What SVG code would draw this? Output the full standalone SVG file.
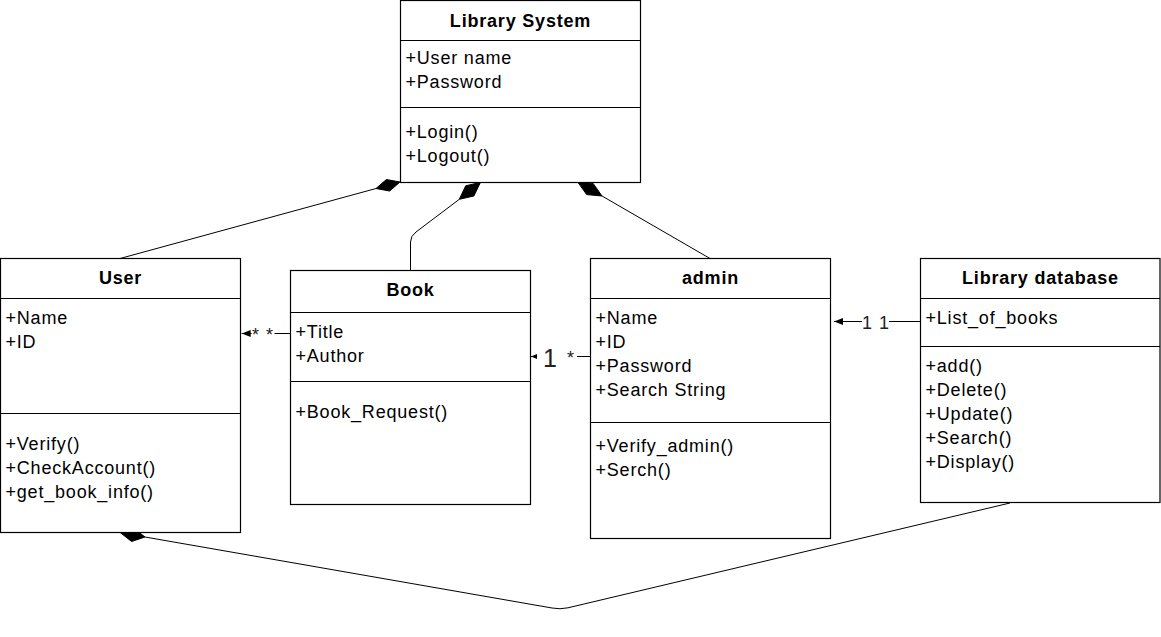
<svg xmlns="http://www.w3.org/2000/svg" width="1161" height="637" viewBox="0 0 1161 637">
  <style>
    .box { fill: #ffffff; stroke: #000000; stroke-width: 1.2; }
    .sep { stroke: #000000; stroke-width: 1.2; fill: none; }
    .edge { fill: none; stroke: #000000; stroke-width: 1; }
    .dia { fill: #000000; stroke: #000000; stroke-width: 1; stroke-linejoin: miter; }
    .t { font-family: "Liberation Sans", Arial, Helvetica, sans-serif; font-size: 18px; letter-spacing: 0.8px; fill: #000000; }
    .h { font-family: "Liberation Sans", Arial, Helvetica, sans-serif; font-size: 18px; letter-spacing: 0.8px; font-weight: bold; fill: #000000; text-anchor: middle; }
    .m { font-family: "Liberation Sans", Arial, Helvetica, sans-serif; font-size: 18px; fill: #222222; }
    .m24 { font-family: "Liberation Sans", Arial, Helvetica, sans-serif; font-size: 25px; fill: #222222; text-anchor: middle; }
    .bg { fill: #ffffff; stroke: none; }
  </style>
  <defs>
    <marker id="arr" markerUnits="userSpaceOnUse" markerWidth="10" markerHeight="8" refX="9" refY="3.5" orient="auto">
      <path d="M0,0 L9,3.5 L0,7 Z" fill="#000000"/>
    </marker>
    <marker id="arrS" markerUnits="userSpaceOnUse" markerWidth="7" markerHeight="6" refX="6" refY="2.5" orient="auto">
      <path d="M0,0 L6,2.5 L0,5 Z" fill="#000000"/>
    </marker>
  </defs>

  <g id="connectors">
    <!-- Library System to User (composition) -->
    <path class="edge" d="M120,258.5 L376,188.5"/>
    <polygon class="dia" points="400,182 389.6,191 376,188.5 386.4,179.5"/>
    <!-- Library System to Book (composition) -->
    <path class="edge" d="M410.5,270.5 V242 Q410.5,236 416,232 L459.3,199.3"/>
    <polygon class="dia" points="480.4,182.4 473.9,196 459.3,199.3 465.7,185.8"/>
    <!-- Library System to admin (composition) -->
    <path class="edge" d="M710,258.5 L602,196"/>
    <polygon class="dia" points="577.7,182.1 593.1,183.4 602,196 586.7,194.6"/>
    <!-- Library database to User (composition, bottom) -->
    <path class="edge" d="M145,537 L552,608 Q560,609.6 568,607.8 L1010,503"/>
    <polygon class="dia" points="120.4,532.7 133.8,528.3 145,537 131.6,541.5"/>

    <!-- Book to User association -->
    <path class="edge" d="M290.5,333.5 L241.7,333.5" marker-end="url(#arr)"/>
    <rect class="bg" x="251.5" y="322" width="23" height="18"/>
    <text class="m" x="252" y="341">*</text>
    <text class="m" x="266" y="341">*</text>

    <!-- admin to Book association -->
    <path class="edge" d="M590.5,356.5 L531,356.5" marker-end="url(#arrS)"/>
    <rect class="bg" x="537" y="343" width="40" height="26"/>
    <text class="m24" x="550" y="366.5">1</text>
    <text class="m" x="567" y="364">*</text>

    <!-- Library database to admin association -->
    <path class="edge" d="M920.5,321.5 L834,321.5" marker-end="url(#arr)"/>
    <rect class="bg" x="862" y="311" width="27" height="20"/>
    <text class="m" x="862" y="328.5">1</text>
    <text class="m" x="879" y="328.5">1</text>
  </g>

  <g id="library-system">
    <rect class="box" x="400.5" y="0.5" width="240" height="182"/>
    <line class="sep" x1="400.5" y1="40.5" x2="640.5" y2="40.5"/>
    <line class="sep" x1="400.5" y1="107.5" x2="640.5" y2="107.5"/>
    <text class="h" x="520.5" y="26.5">Library System</text>
    <text class="t" x="405.5" y="64">+User name</text>
    <text class="t" x="405.5" y="88">+Password</text>
    <text class="t" x="405.5" y="137.5">+Login()</text>
    <text class="t" x="405.5" y="161.5">+Logout()</text>
  </g>

  <g id="user">
    <rect class="box" x="0.5" y="258.5" width="240" height="274"/>
    <line class="sep" x1="0.5" y1="298.5" x2="240.5" y2="298.5"/>
    <line class="sep" x1="0.5" y1="413.5" x2="240.5" y2="413.5"/>
    <text class="h" x="120.5" y="283.5">User</text>
    <text class="t" x="5.5" y="323.5">+Name</text>
    <text class="t" x="5.5" y="347.5">+ID</text>
    <text class="t" x="5.5" y="449.5">+Verify()</text>
    <text class="t" x="5.5" y="473.5">+CheckAccount()</text>
    <text class="t" x="5.5" y="497.5">+get_book_info()</text>
  </g>

  <g id="book">
    <rect class="box" x="290.5" y="270.5" width="240" height="234"/>
    <line class="sep" x1="290.5" y1="312.5" x2="530.5" y2="312.5"/>
    <line class="sep" x1="290.5" y1="381.5" x2="530.5" y2="381.5"/>
    <text class="h" x="410.5" y="295.5">Book</text>
    <text class="t" x="295.5" y="337.5">+Title</text>
    <text class="t" x="295.5" y="361.5">+Author</text>
    <text class="t" x="295.5" y="418">+Book_Request()</text>
  </g>

  <g id="admin">
    <rect class="box" x="590.5" y="258.5" width="240" height="280"/>
    <line class="sep" x1="590.5" y1="298.5" x2="830.5" y2="298.5"/>
    <line class="sep" x1="590.5" y1="422.5" x2="830.5" y2="422.5"/>
    <text class="h" x="710.5" y="283.5">admin</text>
    <text class="t" x="595.5" y="323.5">+Name</text>
    <text class="t" x="595.5" y="347.5">+ID</text>
    <text class="t" x="595.5" y="371.5">+Password</text>
    <text class="t" x="595.5" y="395.5">+Search String</text>
    <text class="t" x="595.5" y="451.5">+Verify_admin()</text>
    <text class="t" x="595.5" y="475.5">+Serch()</text>
  </g>

  <g id="library-database">
    <rect class="box" x="920.5" y="258.5" width="239.5" height="244"/>
    <line class="sep" x1="920.5" y1="298.5" x2="1160" y2="298.5"/>
    <line class="sep" x1="920.5" y1="346.5" x2="1160" y2="346.5"/>
    <text class="h" x="1040.5" y="283.5">Library database</text>
    <text class="t" x="925.5" y="323.5">+List_of_books</text>
    <text class="t" x="925.5" y="371.5">+add()</text>
    <text class="t" x="925.5" y="395.5">+Delete()</text>
    <text class="t" x="925.5" y="419.5">+Update()</text>
    <text class="t" x="925.5" y="443.5">+Search()</text>
    <text class="t" x="925.5" y="467.5">+Display()</text>
  </g>
</svg>
